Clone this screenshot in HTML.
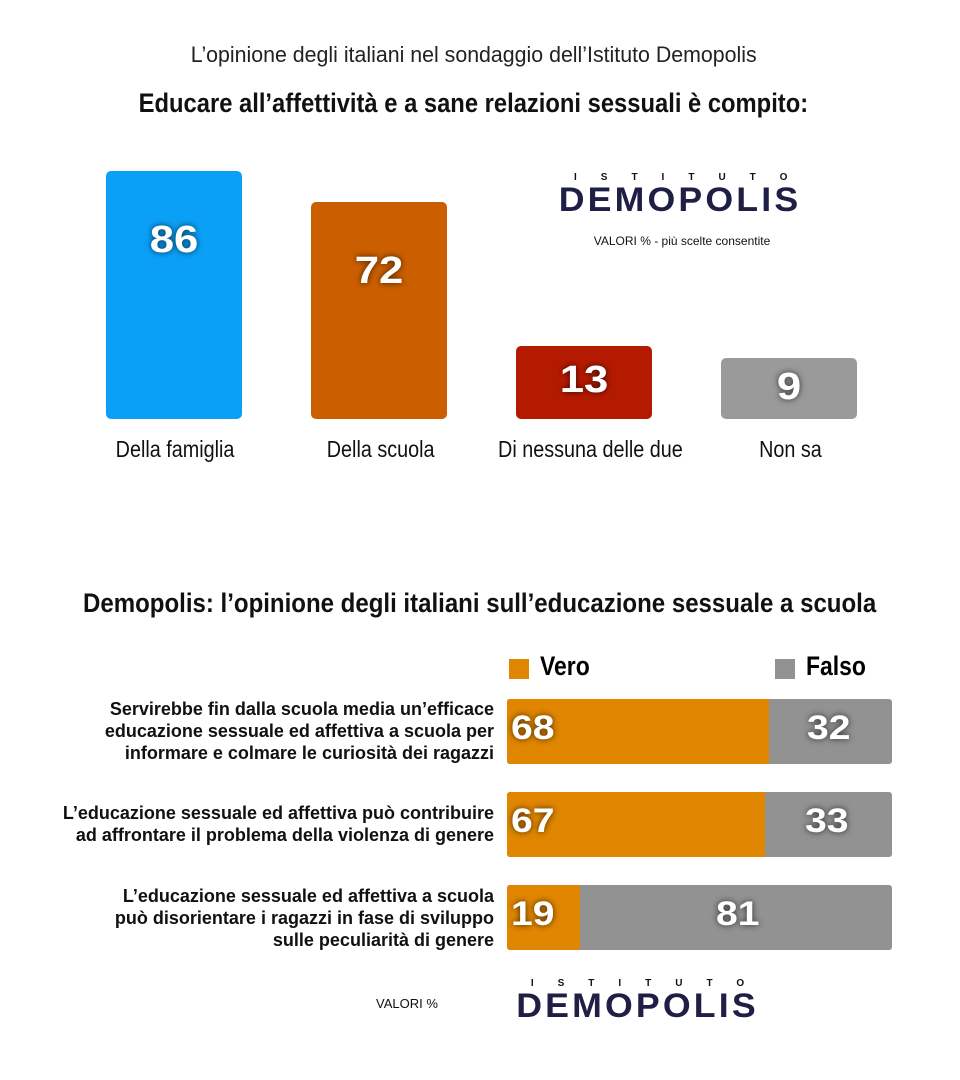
<!DOCTYPE html>
<html><head><meta charset="utf-8"><style>
body{margin:0;width:960px;height:1080px;background:#fff;position:relative;font-family:"Liberation Sans",sans-serif;overflow:hidden}
.a{position:absolute}
.c{position:absolute;left:0;width:947px;text-align:center;white-space:nowrap}
.s{display:inline-block;transform:scaleX(0.86);transform-origin:center}
.bar{position:absolute;border-radius:5px}
.num{position:absolute;color:#fff;font-weight:bold;font-size:38px;text-shadow:0 0 6px rgba(0,0,0,.7);text-align:center;width:100%;transform:scaleX(1.15)}
.lab{position:absolute;width:240px;text-align:center;font-size:23px;color:#111;top:436px;white-space:nowrap}
.row{position:absolute;left:507px;width:385px;height:65px;border-radius:3px;overflow:hidden;background:#929292}
.v{position:absolute;left:0;top:0;height:100%;background:#e08600}
.rn{position:absolute;top:10px;color:#fff;font-weight:bold;font-size:34px;text-shadow:0 0 6px rgba(0,0,0,.7);transform:scaleX(1.15);transform-origin:left}
.q{position:absolute;right:466px;text-align:right;font-size:18px;font-weight:bold;color:#111;line-height:22px;white-space:nowrap}
.logo{position:absolute;text-align:center}
.logo .t{font-size:10px;letter-spacing:24px;color:#111;font-weight:bold;padding-left:24px}
.logo .d{font-size:34px;font-weight:900;color:#1f1f45;letter-spacing:3px;line-height:34px;transform:scaleX(1.05)}
</style></head><body>
<div class="c" style="top:42px;font-size:22px;color:#222"><span class="s" style="transform:scaleX(0.97)">L’opinione degli italiani nel sondaggio dell’Istituto Demopolis</span></div>
<div class="c" style="top:88px;font-size:27px;font-weight:bold;color:#111"><span class="s" style="transform:scaleX(0.88)">Educare all’affettività e a sane relazioni sessuali è compito:</span></div>

<div class="bar" style="left:106px;top:171px;width:136px;height:248px;background:#0ba0f8"><div class="num" style="top:48px">86</div></div>
<div class="bar" style="left:311px;top:202px;width:136px;height:217px;background:#cb5f00"><div class="num" style="top:48px">72</div></div>
<div class="bar" style="left:516px;top:346px;width:136px;height:73px;background:#b41a00"><div class="num" style="top:13px">13</div></div>
<div class="bar" style="left:721px;top:358px;width:136px;height:61px;background:#9a9a9a"><div class="num" style="top:8px">9</div></div>
<div class="lab" style="left:55px"><span class="s">Della famiglia</span></div>
<div class="lab" style="left:261px"><span class="s">Della scuola</span></div>
<div class="lab" style="left:470px"><span class="s">Di nessuna delle due</span></div>
<div class="lab" style="left:670px"><span class="s">Non sa</span></div>

<div class="logo" style="left:550px;top:172px;width:260px"><div class="t">ISTITUTO</div><div class="d">DEMOPOLIS</div></div>
<div class="a" style="left:560px;width:244px;text-align:center;top:234px;font-size:12px;color:#111">VALORI % - più scelte consentite</div>

<div class="c" style="width:960px;top:588px;font-size:27px;font-weight:bold;color:#111"><span class="s" style="transform:scaleX(0.89)">Demopolis: l’opinione degli italiani sull’educazione sessuale a scuola</span></div>

<div class="a" style="left:509px;top:659px;width:20px;height:20px;background:#e08600"></div>
<div class="a" style="left:540px;top:651px;font-size:27px;font-weight:bold;transform:scaleX(0.85);transform-origin:left">Vero</div>
<div class="a" style="left:775px;top:659px;width:20px;height:20px;background:#929292"></div>
<div class="a" style="left:806px;top:651px;font-size:27px;font-weight:bold;transform:scaleX(0.85);transform-origin:left">Falso</div>

<div class="q" style="top:698px">Servirebbe fin dalla scuola media un’efficace<br>educazione sessuale ed affettiva a scuola per<br>informare e colmare le curiosità dei ragazzi</div>
<div class="row" style="top:699px"><div class="v" style="width:262px"></div><div class="rn" style="left:4px">68</div><div class="rn" style="left:300px">32</div></div>
<div class="q" style="top:802px">L’educazione sessuale ed affettiva può contribuire<br>ad affrontare il problema della violenza di genere</div>
<div class="row" style="top:792px"><div class="v" style="width:258px"></div><div class="rn" style="left:4px">67</div><div class="rn" style="left:298px">33</div></div>
<div class="q" style="top:885px">L’educazione sessuale ed affettiva a scuola<br>può disorientare i ragazzi in fase di sviluppo<br>sulle peculiarità di genere</div>
<div class="row" style="top:885px"><div class="v" style="width:73px"></div><div class="rn" style="left:4px">19</div><div class="rn" style="left:209px">81</div></div>

<div class="a" style="left:376px;top:996px;font-size:13px;color:#111">VALORI %</div>
<div class="logo" style="left:505px;top:978px;width:265px"><div class="t">ISTITUTO</div><div class="d">DEMOPOLIS</div></div>
</body></html>
